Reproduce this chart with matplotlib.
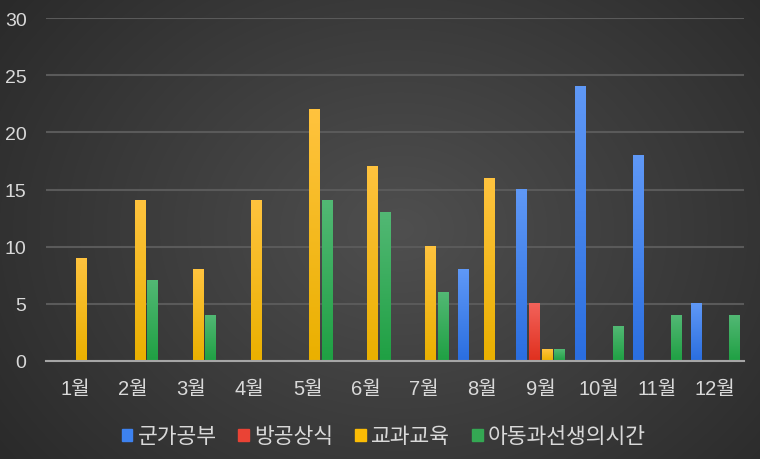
import numpy as np
import matplotlib
matplotlib.use("Agg")
import matplotlib.pyplot as plt
from matplotlib.colors import to_rgb

months = ["1월", "2월", "3월", "4월", "5월", "6월", "7월", "8월", "9월", "10월", "11월", "12월"]
series_names = ["군가공부", "방공상식", "교과교육", "아동과선생의시간"]
gunga = [0, 0, 0, 0, 0, 0, 0, 8, 15, 24, 18, 5]
banggong = [0, 0, 0, 0, 0, 0, 0, 0, 5, 0, 0, 0]
gyogwa = [9, 14, 8, 14, 22, 17, 10, 16, 1, 0, 0, 0]
adong = [0, 7, 4, 0, 14, 13, 6, 0, 1, 3, 4, 4]
yticks = [0, 5, 10, 15, 20, 25, 30]

top_colors = ["#5f98f6", "#f2625a", "#ffc33e", "#52b874"]
bot_colors = ["#2a6ee0", "#e0301e", "#eab000", "#1fa043"]
legend_colors = ["#3d82f0", "#ea4335", "#fbbc05", "#34a853"]

plt.rcParams['font.family'] = ['Liberation Sans', 'Noto Sans CJK KR', 'DejaVu Sans']

fig = plt.figure(figsize=(7.6, 4.6), dpi=100)

# radial background
bg = fig.add_axes([0, 0, 1, 1], zorder=-10)
yy, xx = np.mgrid[0:460, 0:760]
cx, cy = 400, 230
r = np.sqrt(((xx - cx) / 380.0) ** 2 + ((yy - cy) / 300.0) ** 2)
r = np.clip(r / 1.3, 0, 1)
c_in = np.array([0x4f, 0x4f, 0x4f]) / 255.0
c_out = np.array([0x2a, 0x2a, 0x2a]) / 255.0
img = c_in[None, None, :] * (1 - r[..., None]) + c_out[None, None, :] * r[..., None]
bg.imshow(img, aspect='auto', extent=(0, 1, 0, 1), origin='upper')
bg.axis('off')

ax = fig.add_axes([46 / 760, 98 / 460, 698 / 760, 343 / 460])
ax.patch.set_alpha(0)

data = [gunga, banggong, gyogwa, adong]
x = np.arange(len(months))
pitch = 0.218
width = 0.172
for i, vals in enumerate(data):
    off = (i - 1.5) * pitch
    for xi, v in zip(x, vals):
        if v <= 0:
            continue
        x0 = xi + off - width / 2
        t = np.array(to_rgb(top_colors[i]))
        b = np.array(to_rgb(bot_colors[i]))
        n = 64
        f = np.linspace(0, 1, n)[:, None]
        grad = (t * (1 - f) + b * f)[:, None, :]
        ax.imshow(grad, aspect='auto', extent=(x0, x0 + width, 0, v),
                  origin='upper', zorder=3, interpolation='bilinear')
ax.set_xlim(-0.5, 11.5)
ax.set_ylim(0, 30)

ax.set_yticks(yticks)
ax.yaxis.grid(True, color='#5a5a5a', linewidth=1.5)
ax.set_axisbelow(True)
for s in ['top', 'right', 'left']:
    ax.spines[s].set_visible(False)
ax.spines['bottom'].set_color('#a6a6a6')
ax.spines['bottom'].set_linewidth(1.5)
ax.spines['bottom'].set_zorder(4)
ax.set_xticks(x)
ax.set_xticklabels(months)
ax.tick_params(axis='x', length=0, labelsize=14.5, colors='#d9d9d9', pad=13)
ax.tick_params(axis='y', length=0, labelsize=14, colors='#d9d9d9', pad=14)

handles = [plt.Rectangle((0, 0), 1, 1, color=c) for c in legend_colors]
leg = fig.legend(handles, series_names, loc='center', bbox_to_anchor=(0.505, 22 / 460),
                 ncol=4, frameon=False, fontsize=15.5, handlelength=0.5, handleheight=0.5,
                 handletextpad=0.25, columnspacing=1.0, labelcolor='#d9d9d9')

fig.savefig("out.png", dpi=100)
